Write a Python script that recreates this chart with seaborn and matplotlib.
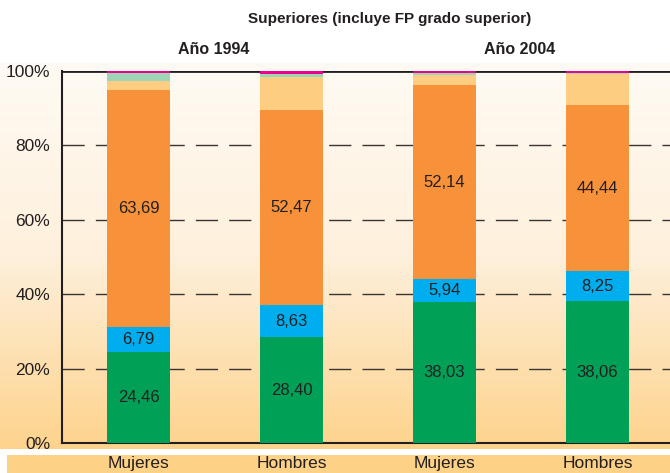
import matplotlib
matplotlib.use("Agg")
import matplotlib.pyplot as plt
import numpy as np
import pandas as pd
import seaborn as sns
from matplotlib.colors import LinearSegmentedColormap

sns.set_style("white")
plt.rcParams['font.family'] = ['Liberation Sans', 'DejaVu Sans']

# data (percentages per bar, bottom to top)
grupos = ["Mujeres 1994", "Hombres 1994", "Mujeres 2004", "Hombres 2004"]
etiquetas_x = ["Mujeres", "Hombres", "Mujeres", "Hombres"]
anios = ["Año 1994", "Año 2004"]
verde = [24.46, 28.40, 38.03, 38.06]
azul = [6.79, 8.63, 5.94, 8.25]
naranja = [63.69, 52.47, 52.14, 44.44]
naranja_claro = [2.50, 8.80, 2.90, 8.35]
verde_claro = [2.00, 0.80, 0.40, 0.40]
rosa = [0.56, 0.90, 0.59, 0.50]
yticks = [0, 20, 40, 60, 80, 100]

capas = [verde, azul, naranja, naranja_claro, verde_claro, rosa]
colores = ["#00A057", "#00AEEF", "#F7923A", "#FDCD82", "#9DD5B6", "#EC008C"]
rotuladas = [True, True, True, False, False, False]

df = pd.DataFrame({"grupo": np.repeat(grupos, len(capas)),
                   "capa": list(range(len(capas))) * len(grupos),
                   "valor": [capas[c][g] for g in range(len(grupos)) for c in range(len(capas))]})
df["acumulado"] = df.groupby("grupo")["valor"].cumsum()
df["base"] = df["acumulado"] - df["valor"]

W, H = 670, 473
fig = plt.figure(figsize=(W / 100, H / 100), dpi=100)

# gradient background
bg = fig.add_axes([0, 1 - 449 / H, 1, (449 - 63) / H])
cmap = LinearSegmentedColormap.from_list("fondo", ["#FFFBF4", "#FEF0DC", "#FDD38C"])
bg.imshow(np.linspace(0, 1, 256).reshape(-1, 1), aspect="auto", cmap=cmap,
          extent=[0, 1, 0, 1], origin="upper")
bg.axis("off")

band = fig.add_axes([7 / W, 0, 1 - 7 / W, (H - 455) / H])
band.set_facecolor("#FDD186")
band.set_xticks([])
band.set_yticks([])
for s in band.spines.values():
    s.set_visible(False)

ax = fig.add_axes([62 / W, 1 - 443 / H, 612 / W, 372 / H])
ax.set_facecolor("none")

for c in reversed(range(len(capas))):
    sub = df[df.capa == c]
    sns.barplot(data=sub, x="grupo", y="acumulado", order=grupos, color=colores[c],
                saturation=1, width=0.41, linewidth=0, errorbar=None, ax=ax, zorder=3)
for p in ax.patches:
    p.set_clip_on(False)

for c in range(len(capas)):
    if not rotuladas[c]:
        continue
    sub = df[df.capa == c]
    for i, g in enumerate(grupos):
        r = sub[sub.grupo == g].iloc[0]
        ax.text(i, r.base + r.valor / 2, f"{r.valor:.2f}".replace(".", ","),
                ha="center", va="center", fontsize=12, color="#231F20", zorder=5)

ax.set_xlim(-0.5, 3.5)
ax.set_ylim(0, 100)
for y in yticks[1:-1]:
    ax.axhline(y, color="#3A3433", lw=1, ls=(0, (16, 8)), zorder=1)
ax.axhline(100, color="#231F20", lw=2, zorder=2)

ax.set_yticks(yticks)
ax.set_yticklabels([f"{y}%" for y in yticks])
ax.set_xticks(range(len(grupos)))
ax.set_xticklabels(etiquetas_x)
ax.set_xticks([-0.5, 0.5, 1.5, 2.5], minor=True)
ax.tick_params(axis="x", which="major", length=0, pad=9.5, labelsize=12.5, colors="#231F20")
ax.tick_params(axis="x", which="minor", length=4, width=1.2, direction="out", color="#231F20")
ax.tick_params(axis="y", length=7, width=1.2, direction="inout", pad=5, labelsize=12.5,
               colors="#231F20")
ax.set_xlabel("")
ax.set_ylabel("")
for s in ["top", "right"]:
    ax.spines[s].set_visible(False)
for s in ["left", "bottom"]:
    ax.spines[s].set_color("#231F20")
    ax.spines[s].set_linewidth(1.5)

fig.text(390 / W, 1 - 19 / H, "Superiores (incluye FP grado superior)", ha="center",
         va="center", fontsize=11, fontweight="bold", color="#231F20")
fig.text(214 / W, 1 - 50 / H, anios[0], ha="center", va="center", fontsize=11.5,
         fontweight="bold", color="#231F20")
fig.text(520 / W, 1 - 50 / H, anios[1], ha="center", va="center", fontsize=11.5,
         fontweight="bold", color="#231F20")

fig.savefig("out.png", dpi=100)
